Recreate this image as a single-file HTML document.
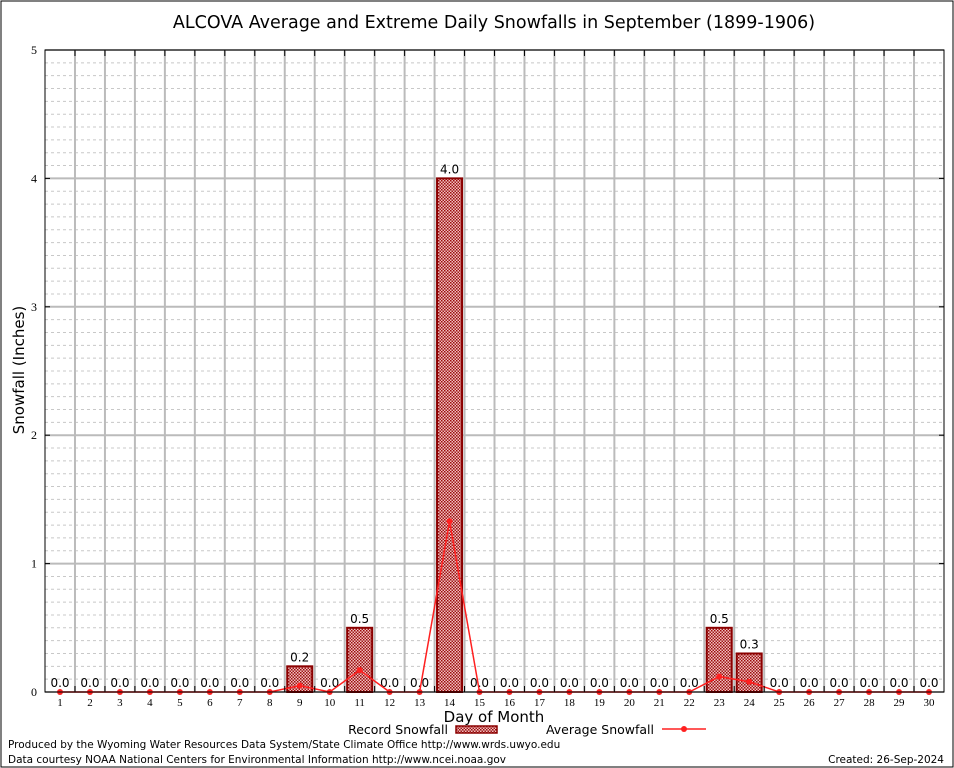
<!DOCTYPE html>
<html><head><meta charset="utf-8"><style>
body{margin:0;background:#fff}
svg{display:block;font-family:"DejaVu Sans","Liberation Sans",sans-serif}
</style></head><body>
<svg id="chart" width="954" height="768" viewBox="0 0 954 768">
<defs>
<pattern id="dots" width="3" height="3" patternUnits="userSpaceOnUse">
<rect width="3" height="3" fill="#f0c0c0"/><rect width="1.5" height="1.5" fill="#9a0a0a"/><rect x="1.5" y="1.5" width="1.5" height="1.5" fill="#a01818"/>
</pattern>
</defs>
<rect x="1" y="1" width="952" height="766" fill="#fff" stroke="#000" stroke-width="1"/>
<text x="494" y="28" font-size="17.5" text-anchor="middle">ALCOVA Average and Extreme Daily Snowfalls in September (1899-1906)</text>
<g id="grid"></g>
<g id="bars"></g>
<g id="avg"></g>
<g id="axes"></g>
<text transform="translate(24,370) rotate(-90)" font-size="15" text-anchor="middle">Snowfall (Inches)</text>
<text x="494" y="722" font-size="15" text-anchor="middle">Day of Month</text>
<g>
<text x="448" y="734" font-size="12.5" text-anchor="end">Record Snowfall</text>
<rect x="456" y="726" width="41" height="7" fill="url(#dots)" stroke="#8b0000" stroke-width="1.5"/>
</g>
<g>
<text x="654" y="734" font-size="12.5" text-anchor="end">Average Snowfall</text>
<line x1="662" y1="729" x2="706" y2="729" stroke="#ff2020" stroke-width="1.5"/>
<circle cx="684" cy="729" r="3" fill="#ff2020"/>
</g>
<text x="8" y="748" font-size="10.5">Produced by the Wyoming Water Resources Data System/State Climate Office http://www.wrds.uwyo.edu</text>
<text x="8" y="763" font-size="10.5">Data courtesy NOAA National Centers for Environmental Information http://www.ncei.noaa.gov</text>
<text x="944" y="763" font-size="10.5" text-anchor="end">Created: 26-Sep-2024</text>
</svg>
<script>
const days=[1,2,3,4,5,6,7,8,9,10,11,12,13,14,15,16,17,18,19,20,21,22,23,24,25,26,27,28,29,30];
const recordSnow=[0,0,0,0,0,0,0,0,0.2,0,0.5,0,0,4.0,0,0,0,0,0,0,0,0,0.5,0.3,0,0,0,0,0,0];
const avgSnow=[0,0,0,0,0,0,0,0,0.05,0,0.17,0,0,1.33,0,0,0,0,0,0,0,0,0.12,0.08,0,0,0,0,0,0];
const yTicks=[0,1,2,3,4,5];
const NS="http://www.w3.org/2000/svg";
const L=45,R=944,T=50,B=692;
const x=d=>60+(d-1)*(929-60)/29;
const y=v=>B-v*(B-T)/5;
function mk(tag,attrs,parent){const e=document.createElementNS(NS,tag);for(const k in attrs)e.setAttribute(k,attrs[k]);parent.appendChild(e);return e;}
const grid=document.getElementById('grid'),bars=document.getElementById('bars'),avg=document.getElementById('avg'),axes=document.getElementById('axes');
for(let i=1;i<50;i++){if(i%10===0)continue;const l=mk('line',{x1:L,x2:R,y1:y(i/10),y2:y(i/10),stroke:'#c8c8c8','stroke-dasharray':'3,3','stroke-width':1},grid);

}
yTicks.forEach(t=>{const l=mk('line',{x1:L,x2:R,y1:y(t),y2:y(t),stroke:'#bbb','stroke-width':2},grid);


const tx=mk('text',{x:L-8,y:y(t)+4,'font-size':12,'text-anchor':'end','font-family':'Liberation Serif,serif'},axes);tx.textContent=t;


mk('line',{x1:L,x2:L+5,y1:y(t),y2:y(t),stroke:'#000'},axes);mk('line',{x1:R-5,x2:R,y1:y(t),y2:y(t),stroke:'#000'},axes);});
for(let i=1;i<days.length;i++){const xv=(x(days[i-1])+x(days[i]))/2;const l=mk('line',{x1:xv,x2:xv,y1:T,y2:B,stroke:'#bbb','stroke-width':2},grid);


mk('line',{x1:xv,x2:xv,y1:T,y2:T+6,stroke:'#000'},axes);mk('line',{x1:xv,x2:xv,y1:B,y2:B-6,stroke:'#000'},axes);}
mk('rect',{x:L,y:T,width:R-L,height:B-T,fill:'none',stroke:'#000','stroke-width':1},axes);
days.forEach((d,i)=>{const v=recordSnow[i];
if(v>0){const b=mk('rect',{x:x(d)-12.5,y:y(v),width:25,height:y(0)-y(v),fill:'url(#dots)',stroke:'#8b0000','stroke-width':2},bars);

}
const lb=mk('text',{x:x(d),y:y(v)-5,'font-size':12,'text-anchor':'middle'},bars);lb.textContent=v.toFixed(1);


const tl=mk('text',{x:x(d),y:B+14,'font-size':11,'text-anchor':'middle','font-family':'Liberation Serif,serif'},axes);tl.textContent=d;

});
const pl=mk('polyline',{points:days.map((d,i)=>x(d)+','+y(avgSnow[i])).join(' '),fill:'none',stroke:'#ff2020','stroke-width':1.5},avg);


days.forEach((d,i)=>{const c=mk('circle',{cx:x(d),cy:y(avgSnow[i]),r:3,fill:'#ff2020'},avg);

});
</script>
</body></html>
